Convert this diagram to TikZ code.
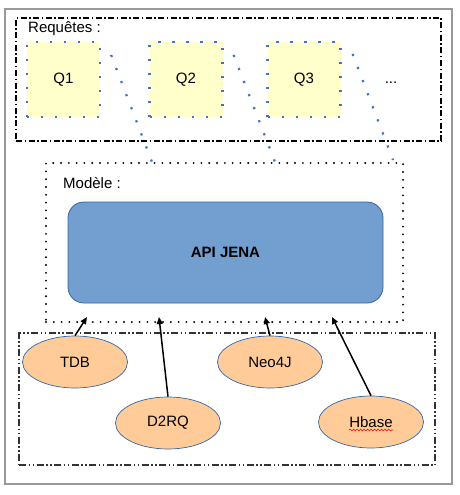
\documentclass[tikz,border=0pt]{standalone}
\usepackage{fontspec}
\setmainfont{Liberation Sans}
\usetikzlibrary{shapes,arrows.meta,positioning,calc,decorations.pathmorphing}

\definecolor{qblue}{RGB}{68,114,196}
\definecolor{qfill}{RGB}{255,255,204}
\definecolor{jenafill}{RGB}{114,159,207}
\definecolor{jenaline}{RGB}{52,101,164}
\definecolor{srcfill}{RGB}{255,204,153}

\begin{document}
\begin{tikzpicture}[
    x=1pt, y=-1pt,
    txt/.style={font=\fontsize{15}{18}\selectfont},
    frame/.style={draw=gray!80, line width=1.6pt, minimum width=447pt, minimum height=475pt},
    group/.style={draw, line width=1.4pt, inner sep=0pt},
    reqgroup/.style={group, dash pattern=on 6pt off 2.5pt on 1.5pt off 2.5pt, minimum width=425pt, minimum height=123pt},
    modgroup/.style={group, line cap=round, dash pattern=on 0pt off 7.8pt, line width=2.1pt, minimum width=357pt, minimum height=159pt},
    srcgroup/.style={group, draw=black!80, line width=1.2pt, dash pattern=on 7pt off 2.5pt on 1.5pt off 2.5pt on 1.5pt off 2.5pt, minimum width=416pt, minimum height=132pt},
    query/.style={txt, draw=qblue, fill=qfill, line width=2.2pt, dash pattern=on 2.2pt off 11.8pt, minimum width=73pt, minimum height=75pt, inner sep=0pt},
    api/.style={txt, draw=jenaline, fill=jenafill, line width=0.8pt, rounded corners=16pt, minimum width=315pt, minimum height=101pt, font=\fontsize{15}{18}\selectfont\bfseries},
    source/.style={txt, ellipse, draw=jenaline, fill=srcfill, line width=0.7pt, minimum width=105pt, minimum height=52pt, inner sep=0pt},
    zoomline/.style={qblue, line width=2.2pt, dash pattern=on 2.2pt off 11.8pt},
    arrow/.style={-{Triangle[length=7pt,width=6pt]}, line width=1.5pt},
    label/.style={txt, anchor=base west, inner sep=0pt}
]
\useasboundingbox (0,0) rectangle (459,495);

% Outer frame
\node[frame] (cadre) at (228.5,246.5) {};

% Queries
\node[reqgroup] (requetes) at (228.5,79.5) {};
\node[label] (reqlabel) at (28,33) {Requêtes :};
\node[query] (q1) at (63.5,79.5) {Q1};
\node[query] (q2) at (186,79.5) {Q2};
\node[query] (q3) at (304,79.5) {Q3};
\node[txt, anchor=base, inner sep=0pt] (qdots) at (391,84) {...};

% Model
\node[modgroup] (modele) at (224.5,242.5) {};
\node[label] (modlabel) at (63,188) {Modèle :};
\node[api] (jena) at (225.5,252.5) {API JENA};

% Data sources
\node[srcgroup] (sources) at (227,399) {};
\node[source] (tdb) at (75,362) {TDB};
\node[source] (neo4j) at (270,362) {Neo4J};
\node[source] (d2rq) at (168,423) {D2RQ};
\node[source] (hbase) at (371,422) {Hbase};
\draw[red, line width=0.6pt, decorate, decoration={snake, amplitude=0.9pt, segment length=3.5pt}]
    ($(hbase.center)+(-22,8)$) -- ($(hbase.center)+(22,8)$);

% Entry points on the model
\coordinate (m1) at (87,317);
\coordinate (m2) at (159,317);
\coordinate (m3) at (265,317);
\coordinate (m4) at (332,317);
\coordinate (z1) at (152,162);
\coordinate (z2) at (275,162);
\coordinate (z3) at (393,160);

% Queries -> model
\draw[zoomline] ($(q1.north east)+(10,14)$) -- (z1);
\draw[zoomline] ($(q2.north east)+(10,14)$) -- (z2);
\draw[zoomline] ($(q3.north east)+(11,13)$) -- (z3);

% Sources -> model
\draw[arrow] (tdb.north) -- (m1);
\draw[arrow] (d2rq.north) -- (m2);
\draw[arrow] (neo4j.north) -- (m3);
\draw[arrow] (hbase.north) -- (m4);

\end{tikzpicture}
\end{document}
